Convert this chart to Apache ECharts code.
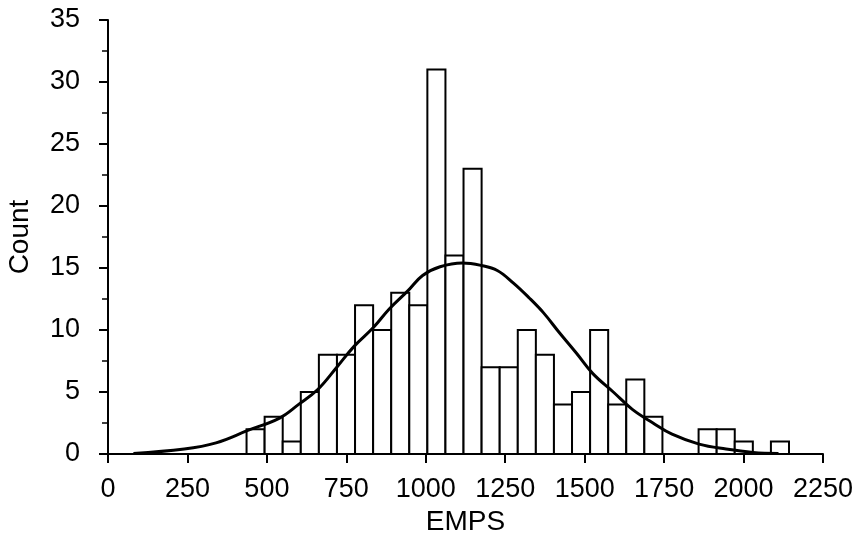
<!DOCTYPE html>
<html>
<head>
<meta charset="utf-8">
<script src="https://cdn.jsdelivr.net/npm/echarts@6/dist/echarts.min.js"></script>
<style>
  html, body { margin: 0; padding: 0; background: #fff; }
  #main { width: 861px; height: 543px; }
</style>
</head>
<body>
<div id="main"></div>
<script>
// 直方图 每个区间的数量
const binStart = 436;
const binWidth = 56.9;
const binCounts = [2, 3, 1, 5, 8, 8, 12, 10, 13, 12, 31, 16, 23, 7, 7, 10, 8, 4, 5, 10, 4, 6, 3, 0, 0, 2, 2, 1, 0, 1];

// 拟合曲线 (读自原图的点)
const curveX = [80, 240, 340, 440, 540, 600, 660, 720, 775, 835, 885, 945, 990, 1045, 1115, 1175, 1225, 1275, 1325, 1370, 1420, 1475, 1525, 1590, 1650, 1715, 1775, 1860, 1945, 2030, 2110];
const curveY = [0.05, 0.4, 0.9, 1.9, 2.9, 4.0, 5.2, 7.0, 8.7, 10.2, 11.7, 13.2, 14.4, 15.1, 15.4, 15.2, 14.8, 13.8, 12.6, 11.4, 9.8, 8.1, 6.5, 5.0, 3.6, 2.5, 1.6, 0.8, 0.4, 0.13, 0.05];

const xTicks = [0, 250, 500, 750, 1000, 1250, 1500, 1750, 2000, 2250];
const yTicks = [0, 5, 10, 15, 20, 25, 30, 35];

const chart = echarts.init(document.getElementById('main'), null, { renderer: 'canvas' });

const barData = binCounts.map((c, i) => [binStart + i * binWidth, binStart + (i + 1) * binWidth, c]);
const lineData = curveX.map((x, i) => [x, curveY[i]]);

const labelFont = 'Liberation Sans, Arial, Helvetica, sans-serif';

const option = {
  backgroundColor: '#fff',
  animation: false,
  grid: { left: 108, right: 38, top: 20, bottom: 89, outerBoundsMode: 'none', containLabel: false },
  xAxis: {
    type: 'value',
    min: xTicks[0],
    max: xTicks[xTicks.length - 1],
    interval: 250,
    name: 'EMPS',
    nameLocation: 'middle',
    nameGap: 54,
    nameTextStyle: { color: '#000', fontSize: 28, fontFamily: labelFont },
    axisLine: { onZero: false, lineStyle: { color: '#000', width: 2 } },
    axisTick: { show: true, length: 9, lineStyle: { color: '#000', width: 2 } },
    axisLabel: { color: '#000', fontSize: 27, fontFamily: labelFont, margin: 22, formatter: v => String(v) },
    splitLine: { show: false }
  },
  yAxis: {
    type: 'value',
    min: yTicks[0],
    max: yTicks[yTicks.length - 1],
    interval: 5,
    name: 'Count',
    nameLocation: 'middle',
    nameGap: 74,
    nameTextStyle: { color: '#000', fontSize: 28, fontFamily: labelFont },
    axisLine: { show: true, lineStyle: { color: '#000', width: 2 } },
    axisTick: { show: true, length: 9, lineStyle: { color: '#000', width: 2 } },
    minorTick: { show: true, splitNumber: 2, length: 6, lineStyle: { color: '#000', width: 1.5 } },
    axisLabel: { color: '#000', fontSize: 27, fontFamily: labelFont, margin: 28 },
    splitLine: { show: false }
  },
  series: [
    {
      type: 'custom',
      data: barData,
      encode: { x: [0, 1], y: 2 },
      renderItem: function (params, api) {
        const p0 = api.coord([api.value(0), 0]);
        const p1 = api.coord([api.value(1), api.value(2)]);
        if (api.value(2) <= 0) return null;
        return {
          type: 'rect',
          shape: { x: p0[0], y: p1[1], width: p1[0] - p0[0], height: p0[1] - p1[1] },
          style: { fill: '#fff', stroke: '#000', lineWidth: 2 }
        };
      },
      z: 2
    },
    {
      type: 'line',
      data: lineData,
      smooth: 0.4,
      showSymbol: false,
      lineStyle: { color: '#000', width: 3 },
      z: 3
    }
  ]
};

chart.setOption(option);
</script>
</body>
</html>
